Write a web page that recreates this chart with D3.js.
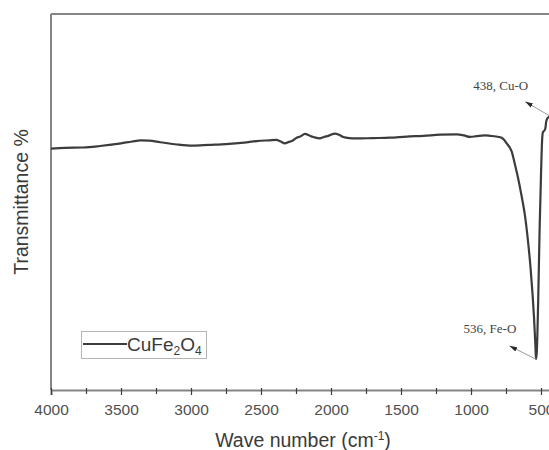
<!DOCTYPE html>
<html>
<head>
<meta charset="utf-8">
<script src="https://cdn.jsdelivr.net/npm/d3@7"></script>
<style>
  body { margin: 0; background: #fff; }
  svg { display: block; }
</style>
</head>
<body>
<svg width="549" height="450"></svg>
<script>
// FTIR spectrum of CuFe2O4
let wavenumber = [4000, 3900, 3770, 3650, 3500, 3420, 3360, 3300, 3220, 3100, 2990, 2870, 2750, 2620, 2530,
  2440, 2390, 2360, 2330, 2300, 2280, 2245, 2220, 2186, 2150, 2126, 2080, 2050, 2019, 1971, 1940, 1912,
  1870, 1816, 1700, 1580, 1460, 1340, 1220, 1100, 1050, 1007, 960, 900, 864, 800, 770, 745, 725, 709,
  690, 665, 640, 613, 590, 575, 560, 550, 540, 536, 530, 520, 510, 500, 492, 486, 478, 470, 463, 455,
  445, 420, 400];
let transmittance = [64.2, 64.4, 64.5, 64.9, 65.6, 66.1, 66.4, 66.3, 65.9, 65.3, 65.0, 65.2, 65.4, 65.8, 66.2,
  66.4, 66.5, 66.1, 65.6, 66.0, 66.2, 67.1, 67.4, 68.1, 67.6, 67.3, 66.9, 67.3, 67.6, 68.2, 67.8, 67.3,
  67.0, 66.9, 67.0, 67.1, 67.4, 67.6, 67.9, 68.0, 67.7, 67.3, 67.5, 67.7, 67.6, 67.3, 66.8, 65.6, 64.6, 63.4,
  60.6, 56.6, 51.9, 46.0, 38.6, 32.7, 25.3, 19.4, 11.9, 8.2, 10.1, 23.9, 42.6, 57.2, 66.5, 68.6, 68.9, 69.4, 71.3, 72.2,
  72.6, 73.0, 73.1];

let majorTicks = [4000, 3500, 3000, 2500, 2000, 1500, 1000, 500];
let minorTicks = [3750, 3250, 2750, 2250, 1750, 1250, 750];

let peakLabels = ["438, Cu-O", "536, Fe-O"];
let peakWavenumber = [438, 536];
let peakTransmittance = [72.9, 8.2];

let legendLabel = ["CuFe", "2", "O", "4"];

let svg = d3.select("svg");
let plotLeft = 51, plotRight = 555, plotTop = 14, plotBottom = 390;

let x = d3.scaleLinear().domain([4000, 400]).range([plotLeft, plotRight]);
let y = d3.scaleLinear().domain([0, 100]).range([plotBottom, plotTop]);

let axisColor = "#858585";
let inkColor = "#3c3c3c";
let sans = "'Liberation Sans', Arial, sans-serif";

// frame
svg.append("line")
    .attr("x1", plotLeft).attr("x2", plotRight)
    .attr("y1", plotTop).attr("y2", plotTop)
    .attr("stroke", axisColor).attr("stroke-width", 2);
svg.append("line")
    .attr("x1", plotLeft).attr("x2", plotLeft)
    .attr("y1", plotTop).attr("y2", plotBottom)
    .attr("stroke", axisColor).attr("stroke-width", 2);
svg.append("line")
    .attr("x1", plotRight).attr("x2", plotRight)
    .attr("y1", plotTop).attr("y2", plotBottom)
    .attr("stroke", axisColor).attr("stroke-width", 2);

// bottom axis
let xAxis = svg.append("g")
    .attr("transform", "translate(0," + plotBottom + ")")
    .call(d3.axisBottom(x).tickValues(majorTicks).tickSize(5).tickPadding(9).tickFormat(d3.format("d")));
xAxis.select(".domain").attr("stroke", axisColor).attr("stroke-width", 2);
xAxis.selectAll(".tick line").attr("stroke", inkColor).attr("stroke-width", 1.2).attr("y1", -2);
xAxis.selectAll(".tick text")
    .attr("fill", "#505050")
    .style("font-family", sans)
    .style("font-size", "15.5px");

let xMinor = svg.append("g")
    .attr("transform", "translate(0," + plotBottom + ")")
    .call(d3.axisBottom(x).tickValues(minorTicks).tickSize(4).tickFormat(""));
xMinor.select(".domain").remove();
xMinor.selectAll(".tick line").attr("stroke", inkColor).attr("stroke-width", 1.2).attr("y1", -2);

// axis titles
let title = svg.append("text")
    .attr("x", (plotLeft + plotRight) / 2)
    .attr("y", 447)
    .attr("text-anchor", "middle")
    .attr("fill", "#3a3a3a")
    .style("font-family", sans)
    .style("font-size", "19.5px");
title.append("tspan").text("Wave number (cm");
title.append("tspan").attr("dy", -7).style("font-size", "12px").text("-1");
title.append("tspan").attr("dy", 7).text(")");

svg.append("text")
    .attr("transform", "translate(28," + (plotTop + plotBottom) / 2 + ") rotate(-90)")
    .attr("text-anchor", "middle")
    .attr("fill", "#3a3a3a")
    .style("font-family", sans)
    .style("font-size", "19.5px")
    .text("Transmittance %");

// spectrum
let points = wavenumber.map((w, i) => [w, transmittance[i]]);
let defs = svg.append("defs");
defs.append("clipPath").attr("id", "plot-clip")
    .append("rect")
    .attr("x", plotLeft).attr("y", plotTop)
    .attr("width", plotRight - plotLeft).attr("height", plotBottom - plotTop);

svg.append("path")
    .datum(points)
    .attr("clip-path", "url(#plot-clip)")
    .attr("fill", "none")
    .attr("stroke", inkColor)
    .attr("stroke-width", 2.2)
    .attr("stroke-linejoin", "round")
    .attr("d", d3.line()
        .x(d => x(d[0]))
        .y(d => y(d[1]))
        .curve(d3.curveMonotoneX));

// peak annotations
let arrowOffsets = [[-24, -14], [-26, -13]];
let textOffsets = [[-49, -26], [-46, -26]];

defs.append("marker")
    .attr("id", "head")
    .attr("viewBox", "0 0 10 6")
    .attr("refX", 9).attr("refY", 3)
    .attr("markerWidth", 8).attr("markerHeight", 5)
    .attr("markerUnits", "userSpaceOnUse")
    .attr("orient", "auto")
    .append("path")
    .attr("d", "M0,0 L10,3 L0,6 Z")
    .attr("fill", "#2a2a2a");

peakLabels.forEach((label, i) => {
    let px = x(peakWavenumber[i]);
    let py = y(peakTransmittance[i]);
    svg.append("line")
        .attr("x1", px).attr("y1", py)
        .attr("x2", px + arrowOffsets[i][0]).attr("y2", py + arrowOffsets[i][1])
        .attr("stroke", "#9a9a9a")
        .attr("stroke-width", 1)
        .attr("marker-end", "url(#head)");
    svg.append("text")
        .attr("x", px + textOffsets[i][0])
        .attr("y", py + textOffsets[i][1])
        .attr("text-anchor", "middle")
        .attr("fill", "#444")
        .style("font-family", "'Liberation Serif', 'Times New Roman', serif")
        .style("font-size", "13px")
        .text(label);
});

// legend
let legend = svg.append("g");
legend.append("rect")
    .attr("x", 81.5).attr("y", 331.5)
    .attr("width", 125).attr("height", 27)
    .attr("fill", "none")
    .attr("stroke", "#b5b5b5")
    .attr("stroke-width", 1);
legend.append("line")
    .attr("x1", 83).attr("x2", 127)
    .attr("y1", 344).attr("y2", 344)
    .attr("stroke", inkColor)
    .attr("stroke-width", 2.2);
let legendText = legend.append("text")
    .attr("x", 127).attr("y", 351)
    .attr("fill", "#3a3a3a")
    .style("font-family", sans)
    .style("font-size", "19px");
legendLabel.forEach((part, i) => {
    let sub = i % 2 === 1;
    legendText.append("tspan")
        .attr("dy", sub ? 4 : (i === 0 ? 0 : -4))
        .style("font-size", sub ? "12px" : "19px")
        .text(part);
});
</script>
</body>
</html>
